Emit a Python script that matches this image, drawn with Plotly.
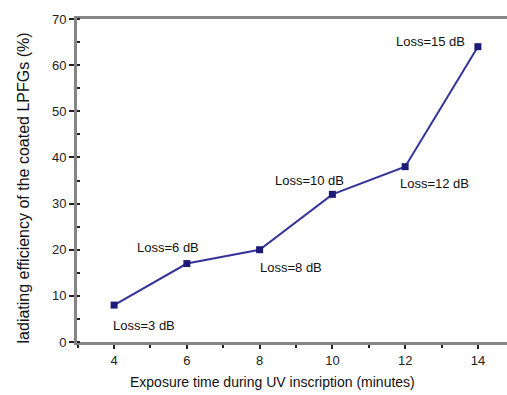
import plotly.graph_objects as go

exposure_min = [4, 6, 8, 10, 12, 14]
efficiency_pct = [8, 17, 20, 32, 38, 64]
loss_labels = ["Loss=3 dB", "Loss=6 dB", "Loss=8 dB", "Loss=10 dB", "Loss=12 dB", "Loss=15 dB"]
x_ticks = [4, 6, 8, 10, 12, 14]
y_ticks = [0, 10, 20, 30, 40, 50, 60, 70]

# label offsets in pixels relative to each point
label_shifts = [(30, -20), (-19, 16), (31, -18), (-23, 14), (29, -17), (-47, 5)]

FONT = "Liberation Sans, Arial"

fig = go.Figure()
fig.add_trace(go.Scatter(
    x=exposure_min, y=efficiency_pct, mode="lines+markers",
    line=dict(color="#33339a", width=2),
    marker=dict(symbol="square", size=7, color="#1c1c78"),
    showlegend=False, hoverinfo="skip",
))

for xv, yv, lab, (dx, dy) in zip(exposure_min, efficiency_pct, loss_labels, label_shifts):
    fig.add_annotation(x=xv, y=yv, text=lab, showarrow=False, xshift=dx, yshift=dy,
                       font=dict(family=FONT, size=13, color="#111"))

fig.add_annotation(xref="paper", yref="paper", x=-0.1244, y=0.477,
                   xanchor="center", yanchor="middle",
                   text="ladiating efficiency of the coated LPFGs (%)", textangle=-90,
                   showarrow=False, font=dict(family=FONT, size=16, color="#111"))
fig.add_annotation(xref="paper", yref="paper", x=0.4535, y=-0.1238,
                   xanchor="center", yanchor="middle",
                   text="Exposure time during UV inscription (minutes)",
                   showarrow=False, font=dict(family=FONT, size=14, color="#111"))

fig.update_layout(
    width=507, height=395,
    margin=dict(l=77, r=0, t=19, b=53),
    paper_bgcolor="white", plot_bgcolor="white",
    font=dict(family=FONT, size=13, color="#222"),
    xaxis=dict(
        range=[2.98, 14.8], tickvals=x_ticks, ticktext=[str(v) for v in x_ticks],
        showgrid=False, zeroline=False,
        showline=True, linecolor="#858585", linewidth=3, mirror=True,
        ticks="outside", ticklen=4, tickwidth=1.5, tickcolor="#222",
        minor=dict(dtick=1, ticks="outside", ticklen=3, tickwidth=1.5, tickcolor="#222"),
    ),
    yaxis=dict(
        range=[0, 70], tickvals=y_ticks, ticktext=[str(v) for v in y_ticks],
        showgrid=False, zeroline=False,
        showline=True, linecolor="#858585", linewidth=3,
        ticks="outside", ticklen=5, tickwidth=1.5, tickcolor="#222",
        minor=dict(dtick=5, ticks="inside", ticklen=3, tickwidth=1.5, tickcolor="#222"),
    ),
)

fig.write_html("out.html")
